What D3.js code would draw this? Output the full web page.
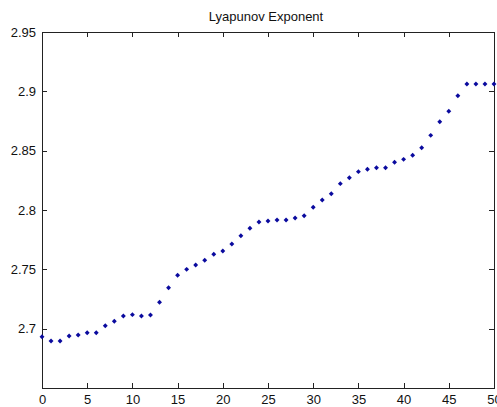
<!DOCTYPE html>
<html>
<head>
<meta charset="utf-8">
<script src="https://cdn.jsdelivr.net/npm/d3@7"></script>
<style>
  html, body { margin: 0; padding: 0; background: #fff; }
  svg { display: block; }
  text { font-family: "Liberation Sans", Arial, Helvetica, sans-serif; fill: #111; }
</style>
</head>
<body>
<svg id="chart" width="497" height="407"></svg>
<script>
// Lyapunov exponent estimate per step
const steps = d3.range(0, 51);
const lyapunov = [
  2.6932, 2.6896, 2.6896, 2.6938, 2.6947, 2.6966, 2.6966, 2.7025, 2.7062, 2.7107,
  2.7118, 2.7107, 2.7115, 2.7222, 2.7345, 2.7450, 2.7500, 2.7536, 2.7576, 2.7627,
  2.7654, 2.7713, 2.7783, 2.7846, 2.7899, 2.7907, 2.7916, 2.7916, 2.7933, 2.7952,
  2.8023, 2.8084, 2.8137, 2.8222, 2.8272, 2.8323, 2.8343, 2.8356, 2.8356, 2.8402,
  2.8427, 2.8461, 2.8525, 2.8629, 2.8744, 2.8832, 2.8963, 2.9062, 2.9062, 2.9062,
  2.9062
];
const xTicks = [0, 5, 10, 15, 20, 25, 30, 35, 40, 45, 50];
const yTicks = [2.7, 2.75, 2.8, 2.85, 2.9, 2.95];
const yTickLabels = ["2.7", "2.75", "2.8", "2.85", "2.9", "2.95"];
const titleText = "Lyapunov Exponent";

const svg = d3.select("#chart");
const plotL = 42, plotR = 494, plotT = 32, plotB = 388;

const x = d3.scaleLinear().domain([0, 50]).range([plotL, plotR]);
const y = d3.scaleLinear().domain([2.65, 2.95]).range([plotB, plotT]);

// axis box
svg.append("rect")
  .attr("x", plotL).attr("y", plotT)
  .attr("width", plotR - plotL).attr("height", plotB - plotT)
  .attr("fill", "#fff").attr("stroke", "#222").attr("stroke-width", 1)
  .attr("shape-rendering", "crispEdges");

const tickLen = 5;
const fmtY = d => yTickLabels[yTicks.indexOf(d)];

// bottom axis, ticks pointing inward
const gx = svg.append("g").attr("transform", `translate(0,${plotB})`)
  .call(d3.axisBottom(x).tickValues(xTicks).tickSizeInner(-tickLen).tickSizeOuter(0).tickPadding(7));
// top axis ticks only
const gxt = svg.append("g").attr("transform", `translate(0,${plotT})`)
  .call(d3.axisTop(x).tickValues(xTicks).tickSizeInner(-tickLen).tickSizeOuter(0).tickFormat(""));
// left axis
const gy = svg.append("g").attr("transform", `translate(${plotL},0)`)
  .call(d3.axisLeft(y).tickValues(yTicks).tickSizeInner(-tickLen).tickSizeOuter(0).tickPadding(6).tickFormat(fmtY));
// right axis ticks only
const gyr = svg.append("g").attr("transform", `translate(${plotR},0)`)
  .call(d3.axisRight(y).tickValues(yTicks).tickSizeInner(-tickLen).tickSizeOuter(0).tickFormat(""));

[gx, gxt, gy, gyr].forEach(g => {
  g.select(".domain").remove();
  g.selectAll(".tick line").attr("stroke", "#222").attr("shape-rendering", "crispEdges");
  g.selectAll(".tick text").attr("font-size", 13).attr("fill", "#111");
});

// title
svg.append("text")
  .attr("x", (plotL + plotR) / 2 - 2).attr("y", 21)
  .attr("text-anchor", "middle").attr("font-size", 13)
  .text(titleText);

// data markers: small square turned 45 degrees
const pts = steps.map((s, i) => ({ s, v: lyapunov[i] }));
svg.append("g").selectAll("path")
  .data(pts)
  .join("path")
  .attr("d", d3.symbol(d3.symbolSquare, 12))
  .attr("transform", d => `translate(${x(d.s)},${y(d.v)}) rotate(45)`)
  .attr("fill", "#0a0a9e");
</script>
</body>
</html>
